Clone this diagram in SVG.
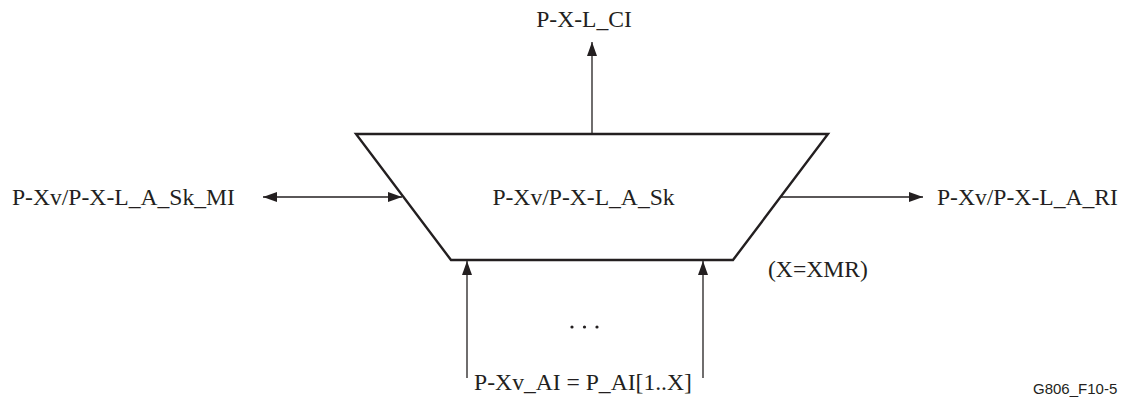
<svg xmlns="http://www.w3.org/2000/svg" width="1127" height="406" viewBox="0 0 1127 406">
<style>
.t{font-family:'Liberation Serif','Times New Roman',serif;font-size:23.6px;fill:#231f20}
.conn line{stroke:#231f20;stroke-width:1.3;fill:none}
.box{fill:#fff;stroke:#231f20;stroke-width:2.4;stroke-linejoin:miter}
.note{font-family:'Liberation Sans',Arial,sans-serif;font-size:15px;fill:#231f20}
</style>
<defs>
<marker id="ah" viewBox="0 0 14 10" refX="14" refY="5" markerWidth="14" markerHeight="10" markerUnits="userSpaceOnUse" orient="auto-start-reverse">
<path d="M0,0 L14,5 L0,10 Z" fill="#231f20"/>
</marker>
</defs>
<rect width="1127" height="406" fill="#fff"/>
<g id="sink">
<polygon class="box" points="356,134 828,134 733,260 451,260"/>
<text class="t" x="583.5" y="205" text-anchor="middle">P-Xv/P-X-L_A_Sk</text>
</g>
<g class="conn">
<line x1="592" y1="134" x2="592" y2="42" marker-end="url(#ah)"/>
<line x1="263" y1="197" x2="402" y2="197" marker-start="url(#ah)" marker-end="url(#ah)"/>
<line x1="781" y1="197" x2="923" y2="197" marker-end="url(#ah)"/>
<line x1="467" y1="378" x2="467" y2="261" marker-end="url(#ah)"/>
<line x1="703" y1="378" x2="703" y2="261" marker-end="url(#ah)"/>
</g>
<g id="ci"><text class="t" x="584" y="27" text-anchor="middle">P-X-L_CI</text></g>
<g id="mi"><text class="t" x="12" y="205">P-Xv/P-X-L_A_Sk_MI</text></g>
<g id="ri"><text class="t" x="937" y="205">P-Xv/P-X-L_A_RI</text></g>
<g id="ai">
<text class="t" x="583" y="390" text-anchor="middle">P-Xv_AI = P_AI[1..X]</text>
<circle cx="572" cy="327" r="1.6" fill="#231f20"/>
<circle cx="584.5" cy="327" r="1.6" fill="#231f20"/>
<circle cx="597" cy="327" r="1.6" fill="#231f20"/>
</g>
<g id="xnote"><text class="t" x="768" y="277">(X=XMR)</text></g>
<text class="note" x="1033" y="394">G806_F10-5</text>
</svg>
